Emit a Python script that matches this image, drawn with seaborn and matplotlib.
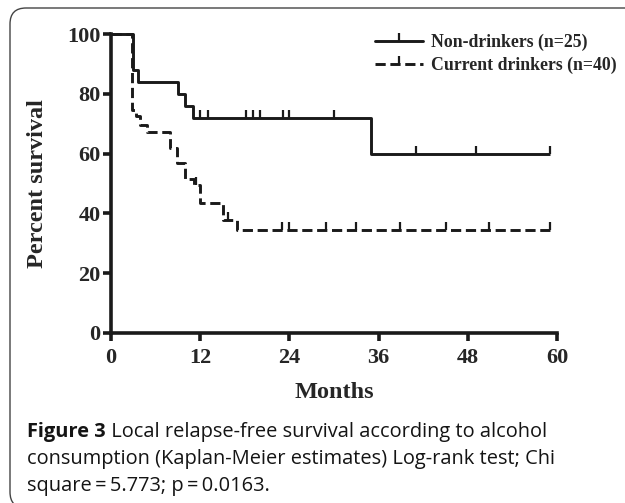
import numpy as np
import pandas as pd
import matplotlib
matplotlib.use("Agg")
import matplotlib.pyplot as plt
import seaborn as sns
from matplotlib.lines import Line2D
from matplotlib.patches import FancyBboxPatch
from matplotlib.transforms import IdentityTransform

# ---------------- data ----------------
nd_label = "Non-drinkers (n=25)"
nd_times = [0, 3.0, 3.6, 9.0, 10.0, 11.0, 35.0, 59.1]
nd_surv = [100, 88, 84, 80, 76, 72, 60, 60]
nd_censor = [12.0, 13.0, 18.1, 19.1, 20.1, 23.1, 24.0, 30.0, 41.0, 49.1, 59.1]

cd_label = "Current drinkers (n=40)"
cd_times = [0, 2.8, 3.4, 3.9, 4.9, 7.9, 8.9, 9.95, 11.1, 12.0, 15.0, 16.9, 59.1]
cd_surv = [100, 74.5, 72.5, 69.7, 67.2, 61.8, 56.8, 51.4, 49.5, 43.6, 37.7, 34.6, 34.6]
cd_censor = [11.5, 15.8, 23.0, 23.9, 28.9, 33.0, 38.9, 45.0, 50.9, 59.1]

x_ticks = [0, 12, 24, 36, 48, 60]
y_ticks = [0, 20, 40, 60, 80, 100]
x_label = "Months"
y_label = "Percent survival"
caption_bold = "Figure 3"
caption_line1 = " Local relapse-free survival according to alcohol"
caption_line2 = "consumption (Kaplan-Meier estimates) Log-rank test; Chi"
caption_line3 = "square\u2009=\u20095.773; p\u2009=\u20090.0163."

# ---------------- style ----------------
sns.set_style("ticks")
plt.rcParams["font.family"] = ["Liberation Serif", "DejaVu Serif"]
plt.rcParams["font.weight"] = "bold"

W, H = 625, 503
fig = plt.figure(figsize=(W / 100, H / 100), dpi=100)
fig.patch.set_facecolor("white")

ax = fig.add_axes([111 / W, 170 / H, 446 / W, 299 / H])
ax.set_facecolor("white")

def step_value(times, surv, t):
    idx = np.searchsorted(np.asarray(times), t, side="right") - 1
    return np.asarray(surv)[idx]

df_nd = pd.DataFrame({"months": nd_times, "surv": nd_surv})
df_cd = pd.DataFrame({"months": cd_times, "surv": cd_surv})

ink = "#1a1a1a"
lw = 2.1
dash = (0, (3.5, 1.6))
sns.lineplot(data=df_nd, x="months", y="surv", ax=ax, color=ink,
             linewidth=lw, drawstyle="steps-post", estimator=None, sort=False,
             clip_on=False, solid_capstyle="butt")
sns.lineplot(data=df_cd, x="months", y="surv", ax=ax, color=ink,
             linewidth=lw, drawstyle="steps-post", estimator=None, sort=False,
             clip_on=False, linestyle=dash, dash_capstyle="butt")

ms, mew = 6, 1.6
ax.plot(nd_censor, [step_value(nd_times, nd_surv, t) for t in nd_censor],
        linestyle="none", marker=2, ms=ms, mew=mew, color=ink, clip_on=False)
ax.plot(cd_censor, [step_value(cd_times, cd_surv, t) for t in cd_censor],
        linestyle="none", marker=2, ms=ms, mew=mew, color=ink, clip_on=False)

ax.set_xlim(0, 60)
ax.set_ylim(0, 100)
ax.set_xticks(x_ticks)
ax.set_yticks(y_ticks)
ax.set_xticklabels([str(v) for v in x_ticks])
ax.set_yticklabels([str(v) for v in y_ticks])
sns.despine(ax=ax)
for s in ["left", "bottom"]:
    ax.spines[s].set_linewidth(2.6)
    ax.spines[s].set_color(ink)
ax.tick_params(axis="both", direction="out", length=6, width=2.6,
               color=ink, labelsize=16, pad=1.5)
for lab in ax.get_xticklabels() + ax.get_yticklabels():
    lab.set_fontweight("bold")
ax.tick_params(axis="x", pad=5)

ax.set_xlabel(x_label, fontsize=17.5, fontweight="bold", labelpad=10)
ax.set_ylabel(y_label, fontsize=17.5, fontweight="bold", labelpad=14)

handles = [
    Line2D([], [], color=ink, lw=lw, marker=2, ms=ms, mew=mew),
    Line2D([], [], color=ink, lw=lw, marker=2, ms=ms, mew=mew, linestyle=dash),
]
leg = ax.legend(handles, [nd_label, cd_label], loc="upper left",
                bbox_to_anchor=(366 / W, 1 - 25 / H), bbox_transform=fig.transFigure,
                frameon=False, borderpad=0, handlelength=2.7, handletextpad=0.45,
                labelspacing=0.3, numpoints=1,
                prop={"family": "Liberation Serif", "weight": "bold", "size": 12.8})

# ---------------- caption ----------------
cap_font = {"family": ["Open Sans", "DejaVu Sans"], "size": 14.4}
cap_color = "#141414"
t_bold = fig.text(27 / W, 1 - 437 / H, caption_bold, ha="left", va="baseline",
                  fontweight="bold", color=cap_color, **cap_font)
fig.canvas.draw()
ax.annotate(caption_line1, xy=(1, 0), xycoords=t_bold, ha="left", va="bottom",
            fontweight="normal", color=cap_color, annotation_clip=False, **cap_font)
fig.text(27 / W, 1 - 464 / H, caption_line2, ha="left", va="baseline",
         fontweight="normal", color=cap_color, **cap_font)
fig.text(27 / W, 1 - 491 / H, caption_line3, ha="left", va="baseline",
         fontweight="normal", color=cap_color, **cap_font)

# ---------------- rounded frame ----------------
frame = FancyBboxPatch((10, -5), 720, H - 8 + 5,
                       boxstyle="round,pad=0,rounding_size=16",
                       transform=IdentityTransform(), fill=False,
                       edgecolor="#444444", linewidth=1.0)
fig.add_artist(frame)

fig.savefig("out.png", dpi=100)
